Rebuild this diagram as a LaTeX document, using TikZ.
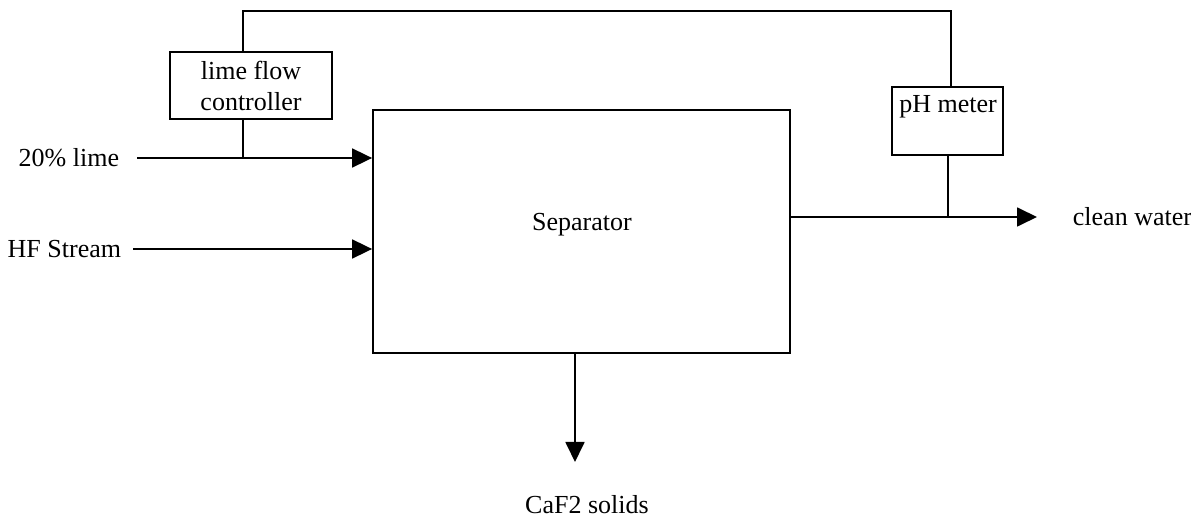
\documentclass[tikz,border=0pt]{standalone}
\usepackage{fontspec}
\setmainfont{Liberation Serif}
\usetikzlibrary{arrows.meta}
\begin{document}
\begin{tikzpicture}[x=0.5pt,y=-0.5pt, line width=0.9pt,
  font=\fontsize{13}{15.5}\selectfont,
  flow/.style={-{Triangle[length=10pt,width=9.5pt]}},
  box/.style={draw, inner sep=0pt},
  lbl/.style={inner sep=0pt}]
\useasboundingbox (0,0) rectangle (1191,518);
% boxes
\node[box, minimum width=208.5pt, minimum height=121.5pt] (sep) at (581.5,231.5) {};
\node[lbl] (septext) at (582,225) {Separator};
\node[box, minimum width=81pt, minimum height=33.5pt, align=center] (ctrl) at (251,85.5) {lime flow\\controller};
\node[box, minimum width=55.5pt, minimum height=34pt] (ph) at (947.5,121) {};
\node[lbl] (phtext) at (948,107) {pH meter};
% labels
\node[lbl, anchor=east] (lime) at (120,158) {20\% lime};
\node[lbl, anchor=east] (hf) at (122,249) {HF Stream};
\node[lbl, anchor=west] (cw) at (1072,217) {clean water};
\node[lbl] (caf) at (587,505) {CaF2 solids};
% coordinates
\coordinate (limein) at (137,158);
\coordinate (hfin) at (133,249);
\coordinate (topL) at (243,11);
\coordinate (topR) at (951,11);
\coordinate (cwend) at (1037,217);
\coordinate (phx) at (948,217);
\coordinate (solend) at (575,462);
% connectors
\draw (topL |- ctrl.north) -- (topL) -- (topR) -- (topR |- ph.north);
\draw[flow] (limein) -- (limein -| sep.west);
\draw (topL |- ctrl.south) -- (topL |- limein);
\draw[flow] (hfin) -- (hfin -| sep.west);
\draw[flow] (sep.east |- cwend) -- (cwend);
\draw (phx |- ph.south) -- (phx);
\draw[flow] (solend |- sep.south) -- (solend);
\end{tikzpicture}
\end{document}
